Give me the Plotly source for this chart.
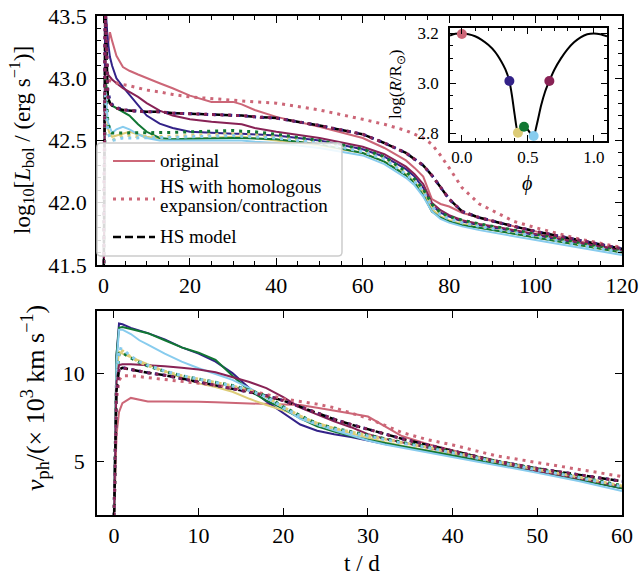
import plotly.graph_objects as go

# ---------------- data: top panel (bolometric light curves) ----------------
t_top = [0, 0.4, 1, 1.5, 2, 3, 4.5, 6, 8, 10, 13, 16, 20, 25, 30, 32, 35, 40, 50, 60,
         65, 70, 72, 74, 76, 78, 80, 83, 87, 95, 100, 110, 120]

L_orig_pink = [41.0, 43.15, 43.25, 43.37, 43.3, 43.18, 43.09, 43.06, 43.03, 43.0, 42.96, 42.92, 42.86, 42.81, 42.81, 42.79, 42.745, 42.69, 42.61, 42.52, 42.44, 42.34, 42.28, 42.21, 42.03, 41.99, 41.97, 41.92, 41.88, 41.81, 41.77, 41.69, 41.62]
L_orig_blue = [41.0, 43.6, 43.3, 43.17, 43.1, 43.0, 42.93, 42.865, 42.78, 42.7, 42.635, 42.6, 42.57, 42.56, 42.555, 42.555, 42.55, 42.54, 42.5, 42.43, 42.37, 42.27, 42.21, 42.12, 41.98, 41.92, 41.89, 41.85, 41.82, 41.77, 41.74, 41.67, 41.61]
L_orig_yellow = [41.0, 42.9, 42.6, 42.55, 42.53, 42.54, 42.56, 42.57, 42.55, 42.53, 42.515, 42.51, 42.515, 42.525, 42.53, 42.53, 42.52, 42.5, 42.46, 42.4, 42.33, 42.23, 42.17, 42.09, 41.95, 41.89, 41.86, 41.83, 41.8, 41.75, 41.72, 41.66, 41.6]
L_orig_green = [41.0, 43.0, 42.85, 42.8, 42.78, 42.76, 42.73, 42.7, 42.63, 42.57, 42.52, 42.51, 42.515, 42.52, 42.52, 42.52, 42.515, 42.51, 42.47, 42.4, 42.33, 42.22, 42.16, 42.06, 41.93, 41.88, 41.85, 41.82, 41.8, 41.75, 41.72, 41.66, 41.6]
L_orig_cyan = [41.0, 42.95, 42.65, 42.6, 42.56, 42.59, 42.61, 42.59, 42.55, 42.52, 42.5, 42.5, 42.5, 42.5, 42.5, 42.5, 42.49, 42.48, 42.44, 42.38, 42.31, 42.2, 42.14, 42.05, 41.93, 41.87, 41.84, 41.81, 41.78, 41.73, 41.7, 41.64, 41.58]
L_orig_wine = [41.0, 43.1, 43.03, 43.01, 42.99, 42.96, 42.92, 42.89, 42.85, 42.8, 42.74, 42.7, 42.67, 42.65, 42.635, 42.63, 42.6, 42.57, 42.52, 42.45, 42.39, 42.29, 42.23, 42.15, 42.0, 41.94, 41.9, 41.86, 41.83, 41.78, 41.75, 41.68, 41.62]

L_hs_model = [41.0, 43.6, 42.85, 42.8, 42.78, 42.76, 42.745, 42.74, 42.735, 42.73, 42.73, 42.72, 42.715, 42.71, 42.705, 42.7, 42.69, 42.68, 42.62, 42.55, 42.48, 42.4, 42.35, 42.3, 42.22, 42.12, 42.03, 41.93, 41.88, 41.81, 41.77, 41.7, 41.63]

L_homo_pink = [41.0, 43.6, 43.0, 42.98, 42.97, 42.96, 42.95, 42.94, 42.92, 42.905, 42.89, 42.87, 42.85, 42.835, 42.82, 42.815, 42.81, 42.8, 42.745, 42.67, 42.63, 42.58, 42.55, 42.52, 42.47, 42.38, 42.28, 42.12, 41.99, 41.85, 41.8, 41.71, 41.64]
L_homo_blue = [41.0, 43.6, 42.9, 42.82, 42.79, 42.765, 42.75, 42.74, 42.735, 42.73, 42.73, 42.72, 42.715, 42.71, 42.705, 42.7, 42.69, 42.68, 42.62, 42.55, 42.48, 42.4, 42.35, 42.3, 42.22, 42.12, 42.03, 41.93, 41.88, 41.81, 41.77, 41.7, 41.63]
L_homo_yellow = [41.0, 42.9, 42.6, 42.52, 42.5, 42.52, 42.54, 42.54, 42.53, 42.53, 42.53, 42.535, 42.54, 42.55, 42.555, 42.55, 42.545, 42.53, 42.49, 42.42, 42.36, 42.24, 42.18, 42.1, 41.98, 41.91, 41.88, 41.85, 41.82, 41.77, 41.74, 41.67, 41.61]
L_homo_green = [41.0, 43.0, 42.65, 42.58, 42.56, 42.56, 42.56, 42.56, 42.56, 42.56, 42.56, 42.565, 42.57, 42.575, 42.58, 42.575, 42.57, 42.55, 42.5, 42.43, 42.37, 42.25, 42.19, 42.11, 41.99, 41.92, 41.89, 41.86, 41.83, 41.78, 41.75, 41.68, 41.62]
L_homo_cyan = [41.0, 42.9, 42.58, 42.52, 42.5, 42.51, 42.52, 42.52, 42.52, 42.52, 42.52, 42.525, 42.53, 42.535, 42.54, 42.535, 42.53, 42.52, 42.48, 42.41, 42.35, 42.23, 42.17, 42.09, 41.97, 41.9, 41.87, 41.84, 41.81, 41.76, 41.73, 41.66, 41.6]
L_homo_wine = [41.0, 43.6, 42.85, 42.8, 42.78, 42.76, 42.745, 42.74, 42.735, 42.73, 42.73, 42.72, 42.715, 42.71, 42.705, 42.7, 42.69, 42.68, 42.62, 42.55, 42.48, 42.4, 42.35, 42.3, 42.22, 42.12, 42.03, 41.93, 41.88, 41.81, 41.77, 41.7, 41.63]

# ---------------- data: bottom panel (photospheric velocity) ----------------
t_bot = [0, 0.3, 0.6, 1, 2, 3, 4, 6, 8, 10, 12, 14, 16, 18, 20, 22, 24, 26, 28, 30,
         32, 34, 37, 40, 45, 50, 55, 60]

v_orig_pink = [1.5, 6.5, 7.8, 8.3, 8.6, 8.5, 8.4, 8.4, 8.4, 8.38, 8.35, 8.32, 8.3, 8.27, 8.25, 8.2, 8.05, 7.9, 7.72, 7.55, 7.0, 6.45, 6.0, 5.65, 5.05, 4.55, 4.07, 3.6]
v_orig_blue = [1.5, 11.0, 12.8, 12.75, 12.55, 12.4, 12.25, 11.9, 11.45, 11.1, 10.65, 10.0, 9.15, 8.4, 7.75, 7.1, 6.75, 6.55, 6.4, 6.2, 6.0, 5.85, 5.6, 5.35, 4.9, 4.45, 4.0, 3.5]
v_orig_yellow = [1.5, 10.0, 11.2, 11.1, 10.9, 10.7, 10.5, 10.1, 9.75, 9.42, 9.22, 8.95, 8.55, 8.2, 7.9, 7.55, 7.2, 6.9, 6.6, 6.35, 6.1, 5.9, 5.65, 5.4, 4.95, 4.5, 4.05, 3.55]
v_orig_green = [1.5, 11.0, 12.55, 12.6, 12.48, 12.38, 12.25, 11.85, 11.45, 11.15, 10.75, 9.85, 9.0, 8.45, 8.0, 7.45, 7.0, 6.7, 6.45, 6.25, 6.05, 5.88, 5.62, 5.37, 4.92, 4.47, 4.0, 3.5]
v_orig_cyan = [1.5, 10.5, 12.45, 12.45, 12.2, 11.85, 11.6, 11.1, 10.65, 10.27, 9.95, 9.62, 9.15, 8.62, 8.05, 7.42, 7.08, 6.78, 6.5, 6.2, 5.98, 5.8, 5.55, 5.3, 4.85, 4.38, 3.9, 3.35]
v_orig_wine = [1.5, 9.5, 10.45, 10.5, 10.5, 10.48, 10.45, 10.38, 10.3, 10.2, 10.05, 9.78, 9.5, 9.15, 8.65, 8.05, 7.67, 7.28, 6.95, 6.55, 6.3, 6.1, 5.8, 5.5, 4.98, 4.5, 4.05, 3.6]

v_hs_model = [1.5, 9.0, 10.2, 10.3, 10.2, 10.1, 10.02, 9.88, 9.7, 9.5, 9.32, 9.12, 8.93, 8.72, 8.45, 8.1, 7.75, 7.4, 7.1, 6.82, 6.55, 6.3, 5.95, 5.62, 5.05, 4.62, 4.25, 3.9]

v_homo_pink = [1.5, 8.5, 9.6, 9.85, 9.85, 9.8, 9.75, 9.65, 9.55, 9.45, 9.32, 9.18, 9.02, 8.8, 8.55, 8.4, 8.25, 8.05, 7.75, 7.45, 7.05, 6.65, 6.25, 5.95, 5.35, 4.95, 4.55, 4.17]
v_homo_blue = [1.5, 9.0, 10.25, 10.32, 10.2, 10.1, 10.02, 9.88, 9.7, 9.5, 9.32, 9.12, 8.93, 8.72, 8.45, 8.1, 7.75, 7.4, 7.1, 6.82, 6.55, 6.3, 5.95, 5.62, 5.05, 4.62, 4.25, 3.9]
v_homo_yellow = [1.5, 9.5, 11.3, 11.25, 10.9, 10.62, 10.42, 10.1, 9.85, 9.66, 9.48, 9.28, 9.03, 8.68, 8.08, 7.58, 7.13, 6.88, 6.68, 6.48, 6.28, 6.08, 5.83, 5.53, 5.03, 4.58, 4.13, 3.63]
v_homo_green = [1.5, 9.5, 11.1, 11.15, 10.85, 10.6, 10.4, 10.1, 9.85, 9.68, 9.5, 9.3, 9.05, 8.7, 8.1, 7.6, 7.15, 6.9, 6.7, 6.5, 6.3, 6.1, 5.85, 5.55, 5.05, 4.6, 4.15, 3.65]
v_homo_cyan = [1.5, 9.5, 11.4, 11.35, 10.95, 10.65, 10.45, 10.12, 9.86, 9.67, 9.48, 9.28, 9.02, 8.66, 8.05, 7.55, 7.1, 6.85, 6.65, 6.45, 6.25, 6.05, 5.8, 5.5, 5.0, 4.55, 4.1, 3.6]
v_homo_wine = [1.5, 9.0, 10.2, 10.3, 10.2, 10.1, 10.02, 9.88, 9.7, 9.5, 9.32, 9.12, 8.93, 8.72, 8.45, 8.1, 7.75, 7.4, 7.1, 6.82, 6.55, 6.3, 5.95, 5.62, 5.05, 4.62, 4.25, 3.9]

# ---------------- data: inset (radius vs phase) ----------------
inset_phi = [-0.09, -0.05, 0.0, 0.05, 0.1, 0.15, 0.2, 0.25, 0.3, 0.33, 0.36, 0.38, 0.40,
             0.425, 0.45, 0.471, 0.5, 0.52, 0.544, 0.57, 0.6, 0.63, 0.663, 0.7, 0.75,
             0.8, 0.85, 0.9, 0.95, 1.0, 1.05, 1.1]
inset_logR = [3.19, 3.197, 3.198, 3.195, 3.187, 3.173, 3.153, 3.126, 3.086, 3.055, 3.009,
              2.95, 2.875, 2.803, 2.812, 2.827, 2.815, 2.8, 2.79, 2.84, 2.91, 2.965, 3.009,
              3.053, 3.098, 3.135, 3.163, 3.183, 3.195, 3.198, 3.195, 3.187]
marker_phi = [0.0, 0.36, 0.425, 0.471, 0.544, 0.663]
marker_logR = [3.196, 3.009, 2.803, 2.827, 2.79, 3.009]

legend_labels = ["original", "HS with homologous", "expansion/contraction", "HS model"]

colors = {"pink": "#CC6677", "blue": "#332288", "yellow": "#DDCC77",
          "green": "#117733", "cyan": "#88CCEE", "wine": "#882255"}
marker_colors = [colors[k] for k in ["pink", "blue", "yellow", "green", "cyan", "wine"]]

FONT = "Liberation Serif"
W, H = 642, 578
TICK = 22

def px_x(p):
    return p / W

def px_y(p):
    return 1 - p / H

fig = go.Figure()

orig_top = [("pink", L_orig_pink), ("blue", L_orig_blue), ("yellow", L_orig_yellow),
            ("green", L_orig_green), ("cyan", L_orig_cyan), ("wine", L_orig_wine)]
homo_top = [("pink", L_homo_pink), ("blue", L_homo_blue), ("yellow", L_homo_yellow),
            ("green", L_homo_green), ("cyan", L_homo_cyan), ("wine", L_homo_wine)]
orig_bot = [("pink", v_orig_pink), ("blue", v_orig_blue), ("yellow", v_orig_yellow),
            ("green", v_orig_green), ("cyan", v_orig_cyan), ("wine", v_orig_wine)]
homo_bot = [("pink", v_homo_pink), ("blue", v_homo_blue), ("yellow", v_homo_yellow),
            ("green", v_homo_green), ("cyan", v_homo_cyan), ("wine", v_homo_wine)]

SOLID_W = 2
DOT = dict(width=3, dash="3px,5px")
DASH = dict(width=2.5, dash="8px,4px", color="black")

def add_panel(t, orig, model, homo, xa, ya):
    for name, y in orig:
        fig.add_trace(go.Scatter(
            x=t, y=y, mode="lines", xaxis=xa, yaxis=ya,
            line=dict(color=colors[name], width=SOLID_W),
            name="original", showlegend=False))
    fig.add_trace(go.Scatter(
        x=t, y=model, mode="lines", xaxis=xa, yaxis=ya,
        line=DASH, name="HS model", showlegend=False))
    for name, y in homo:
        fig.add_trace(go.Scatter(
            x=t, y=y, mode="lines", xaxis=xa, yaxis=ya,
            line=dict(color=colors[name], **DOT),
            name="HS with homologous expansion/contraction", showlegend=False))

add_panel(t_top, orig_top, L_hs_model, homo_top, "x", "y")
add_panel(t_bot, orig_bot, v_hs_model, homo_bot, "x2", "y2")

# inset
fig.add_trace(go.Scatter(x=inset_phi, y=inset_logR, mode="lines", xaxis="x3", yaxis="y3",
                         line=dict(color="black", width=2, shape="spline", smoothing=0.6),
                         showlegend=False))
fig.add_trace(go.Scatter(x=marker_phi, y=marker_logR, mode="markers", xaxis="x3", yaxis="y3",
                         marker=dict(color=marker_colors, size=10, line=dict(width=0)),
                         showlegend=False))

def axis_style(size):
    return dict(ticks="inside", showline=True, linecolor="black", linewidth=1.5,
                mirror="allticks", tickcolor="black", tickwidth=1.3, showgrid=False,
                zeroline=False, automargin=False,
                tickfont=dict(family=FONT, size=size, color="black"))

# ---- legend drawn as a framed box (drawn above the curves) ----
lx0, lx1, ly0, ly1, rad = 97, 342, 143, 256, 4
def P(x, y):
    return f"{px_x(x):.5f},{px_y(y):.5f}"
box_path = (f"M{P(lx0 + rad, ly0)} L{P(lx1 - rad, ly0)} Q{P(lx1, ly0)} {P(lx1, ly0 + rad)} "
            f"L{P(lx1, ly1 - rad)} Q{P(lx1, ly1)} {P(lx1 - rad, ly1)} "
            f"L{P(lx0 + rad, ly1)} Q{P(lx0, ly1)} {P(lx0, ly1 - rad)} "
            f"L{P(lx0, ly0 + rad)} Q{P(lx0, ly0)} {P(lx0 + rad, ly0)} Z")
shapes = [
    dict(type="path", path=box_path, xref="paper", yref="paper", layer="above",
         fillcolor="rgba(255,255,255,0.85)", line=dict(color="#cccccc", width=1.5)),
    dict(type="line", xref="paper", yref="paper", layer="above",
         x0=px_x(113), x1=px_x(155), y0=px_y(161), y1=px_y(161),
         line=dict(color=colors["pink"], width=SOLID_W)),
    dict(type="line", xref="paper", yref="paper", layer="above",
         x0=px_x(113), x1=px_x(155), y0=px_y(199), y1=px_y(199),
         line=dict(color=colors["pink"], **DOT)),
    dict(type="line", xref="paper", yref="paper", layer="above",
         x0=px_x(113), x1=px_x(155), y0=px_y(237), y1=px_y(237),
         line=DASH),
]
legend_y = [161, 186, 205, 237]
legend_ann = [dict(text=txt, x=px_x(158), y=px_y(yy), xref="paper", yref="paper",
                   xanchor="left", yanchor="middle", showarrow=False,
                   font=dict(family=FONT, size=19, color="black"))
              for txt, yy in zip(legend_labels, legend_y)]

top_dom_x = [px_x(97), px_x(622)]
fig.update_layout(
    width=W, height=H,
    margin=dict(l=0, r=0, t=0, b=0, autoexpand=False),
    paper_bgcolor="white", plot_bgcolor="white",
    font=dict(family=FONT, color="black"),
    showlegend=False,
    xaxis=dict(domain=top_dom_x, anchor="y", range=[-1.5, 120], tickvals=[0, 20, 40, 60, 80, 100, 120],
               ticklen=7, minor=dict(dtick=5, ticklen=4, ticks="inside", tickcolor="black"),
               **axis_style(TICK)),
    yaxis=dict(domain=[px_y(265), px_y(16)], anchor="x", range=[41.5, 43.5],
               tickvals=[41.5, 42.0, 42.5, 43.0, 43.5], tickformat=".1f",
               ticklen=7, minor=dict(dtick=0.1, ticklen=4, ticks="inside", tickcolor="black"),
               ticklabelstandoff=4, **axis_style(TICK)),
    xaxis2=dict(domain=top_dom_x, anchor="y2", range=[-2, 60], tickvals=[0, 10, 20, 30, 40, 50, 60],
                ticklen=7, **axis_style(TICK)),
    yaxis2=dict(domain=[px_y(515), px_y(311)], anchor="x2", range=[2.0, 13.5],
                tickvals=[5, 10], ticklen=7, ticklabelstandoff=6, **axis_style(TICK)),
    xaxis3=dict(domain=[px_x(450), px_x(607)], anchor="y3", range=[-0.09, 1.10],
                tickvals=[0.0, 0.5, 1.0], tickformat=".1f", ticklen=6,
                minor=dict(dtick=0.1, ticklen=3.5, ticks="inside", tickcolor="black"),
                **axis_style(17)),
    yaxis3=dict(domain=[px_y(141), px_y(28)], anchor="x3", range=[2.77, 3.22],
                tickvals=[2.8, 3.0, 3.2], tickformat=".1f", ticklen=6,
                minor=dict(dtick=0.05, ticklen=3.5, ticks="inside", tickcolor="black"),
                ticklabelstandoff=6, **axis_style(17)),
    shapes=shapes,
    annotations=legend_ann + [
        dict(text="log<sub>10</sub>[<i>L</i><sub>bol</sub> / (erg s<sup>−1</sup>)]",
             x=px_x(22), y=px_y(140), xref="paper", yref="paper", showarrow=False,
             xanchor="center", yanchor="middle",
             textangle=-90, font=dict(family=FONT, size=23, color="black")),
        dict(text="<i>v</i><sub>ph</sub>/(× 10<sup>3</sup> km s<sup>−1</sup>)",
             x=px_x(35), y=px_y(398), xref="paper", yref="paper", showarrow=False,
             xanchor="center", yanchor="middle",
             textangle=-90, font=dict(family=FONT, size=26, color="black")),
        dict(text="t / d", x=px_x(362), y=px_y(563), xref="paper", yref="paper",
             xanchor="center", yanchor="middle",
             showarrow=False, font=dict(family=FONT, size=23, color="black")),
        dict(text="log(<i>R</i>/R<sub>⊙</sub>)", x=px_x(397), y=px_y(84), xref="paper",
             yref="paper", showarrow=False, textangle=-90,
             xanchor="center", yanchor="middle",
             font=dict(family=FONT, size=17, color="black")),
        dict(text="<i>ϕ</i>", x=px_x(527), y=px_y(183), xref="paper", yref="paper",
             xanchor="center", yanchor="middle",
             showarrow=False, font=dict(family=FONT, size=20, color="black")),
    ],
)

fig.write_html("out.html", config={"displayModeBar": False},
               post_script="document.body.style.margin='0px';")
